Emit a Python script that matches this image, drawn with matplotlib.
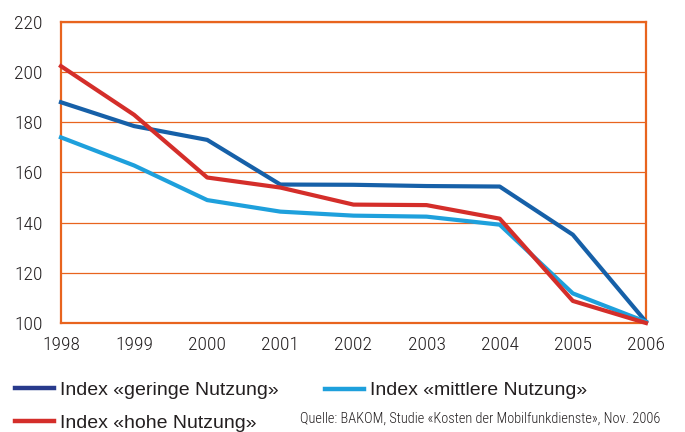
import matplotlib
matplotlib.use("Agg")
import matplotlib.pyplot as plt
from matplotlib.lines import Line2D

years = [1998, 1999, 2000, 2001, 2002, 2003, 2004, 2005, 2006]
geringe = [188, 178.5, 173, 155.2, 155.1, 154.6, 154.4, 135.2, 100.5]
mittlere = [174, 162.8, 149, 144.4, 142.8, 142.4, 139.2, 111.8, 100.5]
hohe = [202.4, 183, 158, 154, 147.2, 147, 141.6, 108.8, 100]
yticks = [100, 120, 140, 160, 180, 200, 220]
labels = ['Index «geringe Nutzung»', 'Index «mittlere Nutzung»', 'Index «hohe Nutzung»']
source = 'Quelle: BAKOM, Studie «Kosten der Mobilfunkdienste», Nov. 2006'

orange = '#e8641e'
textc = '#231f20'
c_ger = '#1660a8'
c_mit = '#1ea0dc'
c_hoh = '#d42e2a'
c_ger_leg = '#283a8c'

cond = ['Roboto Condensed', 'DejaVu Sans']
reg = ['Liberation Sans', 'DejaVu Sans']

fig = plt.figure(figsize=(6.85, 4.32), dpi=100)
ax = fig.add_axes([0.089, 0.2523, 0.854, 0.6968])

ax.plot(years, geringe, color=c_ger, lw=3.0, clip_on=False, zorder=3)
ax.plot(years, mittlere, color=c_mit, lw=3.0, clip_on=False, zorder=3)
ax.plot(years, hohe, color=c_hoh, lw=3.0, clip_on=False, zorder=3)

ax.set_xlim(1998, 2006)
ax.set_ylim(100, 220)
ax.set_xticks(years)
ax.set_yticks(yticks)
ax.tick_params(length=0, labelcolor=textc)
ax.tick_params(axis='x', pad=9)
ax.tick_params(axis='y', pad=13)
for lab in ax.get_xticklabels() + ax.get_yticklabels():
    lab.set_family(cond)
    lab.set_fontsize(14)
    lab.set_fontweight('light')
ax.grid(axis='y', color=orange, lw=0.9)
ax.set_axisbelow(True)
for s in ax.spines.values():
    s.set_color(orange)
    s.set_linewidth(1.6)
    s.set_zorder(2)

h_ger = Line2D([], [], color=c_ger_leg, lw=3.2)
h_mit = Line2D([], [], color=c_mit, lw=3.2)
h_hoh = Line2D([], [], color=c_hoh, lw=3.2)

legkw = dict(frameon=False, prop={'family': reg, 'size': 14}, handlelength=2.0,
             handletextpad=0.3, labelspacing=0.8, borderpad=0, borderaxespad=0,
             loc='center left', labelcolor=textc)
leg1 = fig.legend([h_ger, h_hoh], [labels[0], labels[2]],
                  bbox_to_anchor=(0.022, 0.059), **legkw)
leg2 = fig.legend([h_mit], [labels[1]], bbox_to_anchor=(0.475, 0.096), **legkw)

fig.text(0.438, 0.030, source, family=cond, fontsize=10.4, fontweight='light',
         color=textc, va='center')

fig.savefig('out.png', dpi=100)
